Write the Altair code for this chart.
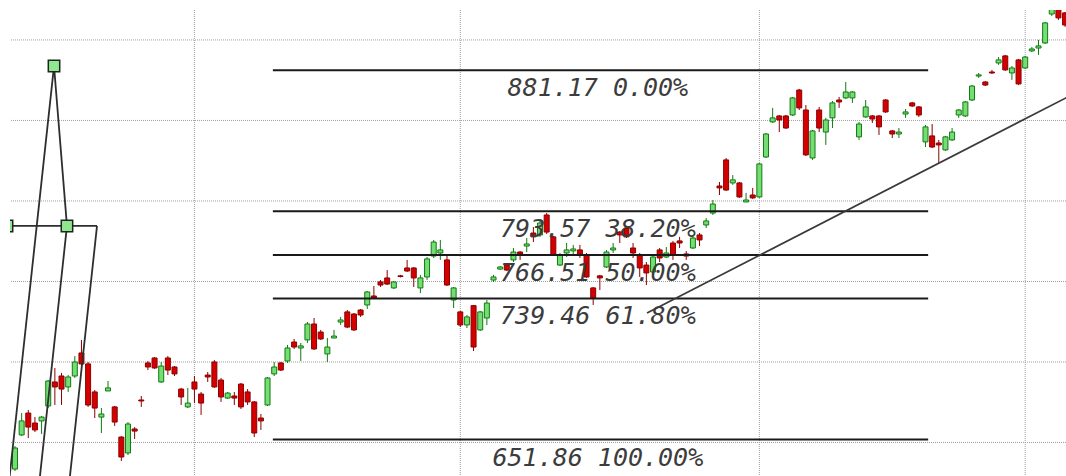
import altair as alt
import pandas as pd

# ---- candle data (price units) ----
opens = [633.5, 654.7, 668.3, 662.1, 663.4, 672.7, 687.6, 691.3, 684.5, 691.3,
         705.6, 698.8, 681.4, 665.8, 682.0, 672.1, 653.4, 643.5, 658.4, 676.4,
         699.4, 702.5, 687.6, 702.5, 696.9, 683.2, 672.1, 687.6, 680.1, 691.9,
         700.0, 688.8, 677.6, 678.9, 686.3, 681.4, 675.2, 665.2, 673.3, 692.6,
         699.4, 700.6, 712.4, 708.7, 713.7, 723.6, 718.6, 705.0, 714.9, 724.8,
         731.1, 729.8, 732.3, 735.4, 741.0, 749.7, 752.2, 746.0, 753.5, 758.4,
         758.4, 746.0, 752.8, 765.8, 767.7, 763.4, 738.5, 731.1, 723.0, 735.0,
         719.9, 727.3, 750.9, 757.7, 760.2, 763.4, 768.3, 772.0, 780.1, 778.9,
         791.3, 777.7, 760.2, 767.7, 769.0, 769.6, 766.5, 746.0, 753.5, 759.0,
         769.6, 780.7, 783.2, 770.8, 766.5, 760.2, 755.9, 769.6, 765.2, 773.9,
         775.2, 767.1, 770.8, 778.9, 785.1, 792.5, 809.3, 825.5, 811.2, 811.2,
         799.4, 803.7, 802.5, 827.3, 849.1, 852.8, 852.8, 853.4, 868.9, 856.5,
         826.7, 856.5, 842.8, 851.6, 862.7, 864.0, 864.0, 839.8, 852.2, 852.8,
         852.8, 862.7, 843.5, 841.6, 854.0, 860.9, 858.4, 836.7, 840.4, 836.0,
         831.7, 837.9, 853.4, 852.8, 862.7, 877.6, 873.9, 880.1, 885.7, 890.1,
         879.5, 887.6, 882.6, 893.2, 895.0, 898.1, 916.1, 919.9, 916.8]
highs = [647.8, 668.3, 670.2, 665.8, 666.5, 688.8, 696.3, 693.2, 691.9, 703.7,
         713.7, 700.0, 682.6, 671.4, 688.2, 672.7, 654.0, 662.7, 659.6, 678.9,
         700.6, 703.1, 700.0, 703.7, 697.5, 683.9, 683.9, 691.3, 681.4, 693.8,
         701.2, 690.1, 681.4, 681.4, 687.0, 683.2, 675.8, 667.7, 690.7, 700.0,
         700.0, 710.6, 714.3, 711.8, 724.8, 727.3, 719.9, 714.9, 719.9, 728.0,
         732.3, 730.4, 732.9, 744.1, 747.2, 750.9, 757.1, 750.3, 754.1, 763.4,
         759.0, 754.1, 765.2, 775.8, 775.8, 766.5, 746.6, 731.7, 729.2, 735.4,
         731.7, 738.5, 754.1, 759.6, 760.9, 770.8, 768.9, 777.0, 783.8, 787.6,
         792.5, 778.3, 767.7, 773.9, 772.7, 772.7, 767.7, 746.6, 754.1, 769.6,
         773.9, 781.4, 783.8, 773.9, 767.7, 762.1, 766.5, 770.8, 771.4, 775.2,
         777.7, 768.9, 778.3, 780.1, 789.4, 800.6, 811.8, 826.7, 816.1, 811.8,
         805.0, 808.1, 823.6, 842.2, 857.8, 853.4, 853.4, 864.6, 869.6, 859.6,
         844.1, 858.4, 851.6, 862.1, 864.6, 873.9, 868.3, 849.1, 862.7, 853.4,
         853.4, 863.3, 844.1, 845.3, 857.1, 861.5, 859.0, 847.2, 847.8, 837.9,
         840.4, 845.3, 857.1, 862.1, 872.0, 879.5, 874.5, 881.4, 889.4, 890.7,
         883.8, 888.2, 890.1, 895.6, 900.0, 911.2, 920.5, 921.7, 917.4]
lows = [632.3, 654.0, 652.8, 656.5, 655.3, 671.4, 673.3, 673.3, 681.4, 690.1,
        697.5, 672.1, 665.2, 655.9, 682.0, 660.3, 638.5, 642.2, 652.2, 672.1,
        695.0, 695.7, 687.0, 691.9, 691.3, 673.3, 671.4, 674.5, 667.1, 687.6,
        683.9, 675.2, 677.0, 673.3, 670.8, 673.3, 653.4, 657.8, 672.7, 691.3,
        694.4, 699.4, 708.1, 700.6, 711.8, 707.5, 713.7, 700.0, 714.9, 723.0,
        721.1, 719.3, 728.0, 732.9, 739.1, 746.6, 747.8, 745.3, 752.5, 755.9,
        746.6, 742.8, 751.0, 764.6, 763.4, 747.2, 733.5, 721.7, 721.1, 706.8,
        719.3, 723.0, 749.7, 757.1, 756.5, 762.1, 763.4, 768.3, 774.5, 777.7,
        779.5, 765.8, 759.6, 765.2, 766.5, 764.6, 752.2, 735.4, 744.7, 758.4,
        767.7, 773.9, 777.0, 764.6, 752.8, 747.8, 755.3, 762.1, 764.6, 763.4,
        770.8, 763.4, 770.2, 772.0, 783.2, 791.3, 803.7, 806.2, 810.0, 801.9,
        799.4, 801.3, 801.9, 826.7, 848.4, 842.8, 844.7, 852.8, 856.5, 828.0,
        825.5, 842.8, 834.8, 845.3, 857.8, 863.3, 860.9, 837.9, 851.6, 848.4,
        841.0, 854.7, 839.1, 839.1, 851.6, 858.4, 852.2, 833.5, 832.9, 823.6,
        831.1, 837.3, 851.6, 852.2, 862.1, 876.4, 871.4, 878.9, 884.5, 880.8,
        875.2, 872.0, 882.0, 892.5, 890.7, 897.5, 914.9, 912.4, 908.1]
closes = [646.6, 663.4, 659.6, 657.8, 665.8, 688.2, 684.5, 683.2, 690.7, 700.0,
          698.8, 673.3, 671.4, 667.7, 683.9, 662.7, 641.0, 661.5, 657.1, 675.8,
          696.9, 696.3, 697.5, 695.0, 692.6, 678.3, 674.5, 683.2, 674.5, 690.7,
          684.5, 678.3, 680.7, 677.6, 672.1, 675.2, 655.9, 663.4, 690.1, 696.9,
          695.0, 708.7, 709.3, 710.0, 723.6, 708.1, 714.3, 709.3, 716.1, 726.1,
          721.7, 719.9, 729.2, 743.5, 739.7, 747.8, 748.4, 749.7, 753.1, 756.5,
          752.2, 752.2, 764.0, 774.5, 769.6, 747.8, 746.0, 723.0, 728.0, 709.3,
          731.1, 736.6, 752.8, 759.0, 757.1, 768.3, 767.1, 773.3, 777.7, 786.3,
          780.7, 766.5, 766.5, 769.6, 770.2, 767.1, 752.8, 739.7, 752.2, 768.3,
          770.8, 778.9, 777.7, 767.7, 758.4, 755.3, 765.2, 764.6, 767.7, 766.5,
          773.9, 765.8, 777.0, 775.8, 787.6, 798.1, 808.1, 806.8, 813.1, 802.5,
          800.6, 801.9, 823.0, 841.6, 851.6, 850.3, 845.3, 864.0, 857.8, 828.6,
          843.5, 845.3, 850.3, 860.9, 861.5, 867.7, 867.7, 847.8, 858.4, 850.9,
          846.0, 855.3, 841.6, 842.8, 855.3, 859.0, 853.4, 846.0, 833.5, 834.8,
          839.8, 842.8, 856.5, 861.5, 871.4, 878.3, 872.0, 879.5, 887.6, 881.4,
          882.6, 872.7, 889.4, 894.4, 896.3, 910.6, 919.3, 913.7, 909.3]

# ---- grid positions (bar index / price) ----
grid_x = [27, 67, 112, 152]
grid_y = [650, 700, 750, 800, 850, 900]

# ---- Fibonacci retracement ----
fib_prices = [881.17, 793.57, 766.51, 739.46, 651.86]
fib_labels = ["881.17 0.00%", "793.57 38.20%", "766.51 50.00%",
              "739.46 61.80%", "651.86 100.00%"]
fib_start = 38.8
fib_end = 137.4
fib_label_x = 87.7

# ---- trend line ----
trend_x = [95.1, 158.5]
trend_y = [730.4, 864.8]

# ---- pitchfork drawing ----
seg_x1 = [5.87, 5.87, -1.2, 7.82, 12.34]
seg_y1 = [883.8, 883.8, 784.5, 784.5, 784.5]
seg_x2 = [-1.19, 7.82, 12.34, 3.37, 7.88]
seg_y2 = [614.3, 784.5, 784.5, 614.3, 614.3]
handle_x = [5.87, 7.82, -1.2]
handle_y = [883.8, 784.5, 784.5]

n = len(opens)
candles = pd.DataFrame({
    "i": list(range(n)), "o": opens, "h": highs, "l": lows, "c": closes,
})
candles["dir"] = ["up" if c >= o else "down" for o, c in zip(opens, closes)]

xs = alt.Scale(domain=[-0.752, 158.14], nice=False, zero=False, padding=0)
ys = alt.Scale(domain=[629.2, 918.6], nice=False, zero=False, padding=0)

grid_color = "#a0a0a0"

gx = alt.Chart(pd.DataFrame({"gx": grid_x})).mark_rule(
    color=grid_color, strokeDash=[1, 1], strokeWidth=1, clip=True
).encode(x=alt.X("gx:Q", scale=xs, axis=None))

gy = alt.Chart(pd.DataFrame({"gy": grid_y})).mark_rule(
    color=grid_color, strokeDash=[1, 1], strokeWidth=1, clip=True
).encode(y=alt.Y("gy:Q", scale=ys, axis=None))

wick_scale = alt.Scale(domain=["up", "down"], range=["#117a11", "#8a0000"])
fill_scale = alt.Scale(domain=["up", "down"], range=["#74dd74", "#d40000"])

base = alt.Chart(candles)
wicks = base.mark_rule(strokeWidth=1, clip=True).encode(
    x=alt.X("i:Q", scale=xs, axis=None),
    y=alt.Y("l:Q", scale=ys, axis=None),
    y2="h:Q",
    color=alt.Color("dir:N", scale=wick_scale, legend=None),
)
bodies = base.mark_bar(size=5, strokeWidth=1, clip=True).encode(
    x=alt.X("i:Q", scale=xs, axis=None),
    y=alt.Y("o:Q", scale=ys, axis=None),
    y2="c:Q",
    fill=alt.Fill("dir:N", scale=fill_scale, legend=None),
    stroke=alt.Stroke("dir:N", scale=wick_scale, legend=None),
)

fib_df = pd.DataFrame({
    "p": fib_prices, "lab": fib_labels,
    "x1": [fib_start] * 5, "x2": [fib_end] * 5, "xl": [fib_label_x] * 5,
})
fib_lines = alt.Chart(fib_df).mark_rule(color="#1a1a1a", strokeWidth=2, clip=True).encode(
    x=alt.X("x1:Q", scale=xs, axis=None), x2="x2:Q",
    y=alt.Y("p:Q", scale=ys, axis=None),
)
fib_text = alt.Chart(fib_df).mark_text(
    font="DejaVu Sans Mono", fontSize=25, fontStyle="italic", fontWeight="normal",
    align="center", baseline="alphabetic", dy=26, color="#3c3c3c", clip=True
).encode(
    x=alt.X("xl:Q", scale=xs, axis=None),
    y=alt.Y("p:Q", scale=ys, axis=None),
    text="lab:N",
)

trend = alt.Chart(pd.DataFrame({"tx": trend_x, "ty": trend_y})).mark_line(
    color="#3a3a3a", strokeWidth=1.7, clip=True
).encode(
    x=alt.X("tx:Q", scale=xs, axis=None),
    y=alt.Y("ty:Q", scale=ys, axis=None),
)

segs = alt.Chart(pd.DataFrame({"x1": seg_x1, "y1": seg_y1, "x2": seg_x2, "y2": seg_y2})).mark_rule(
    color="#2e2e2e", strokeWidth=1.8, clip=True
).encode(
    x=alt.X("x1:Q", scale=xs, axis=None), x2="x2:Q",
    y=alt.Y("y1:Q", scale=ys, axis=None), y2="y2:Q",
)
handles = alt.Chart(pd.DataFrame({"hx": handle_x, "hy": handle_y})).mark_square(
    size=130, filled=True, color="#8ee88e", stroke="#222222", strokeWidth=1.5,
    opacity=1, clip=True
).encode(
    x=alt.X("hx:Q", scale=xs, axis=None),
    y=alt.Y("hy:Q", scale=ys, axis=None),
)

chart = alt.layer(
    gx, gy, wicks, bodies, fib_lines, trend, segs, handles, fib_text
).properties(
    width=1056, height=466,
    padding={"left": 10, "top": 10, "right": 0, "bottom": 0},
    autosize=alt.AutoSizeParams(type="none"),
    background="white",
).configure_view(strokeWidth=0)

chart.save("out.html", embed_options={"renderer": "svg", "actions": False})
